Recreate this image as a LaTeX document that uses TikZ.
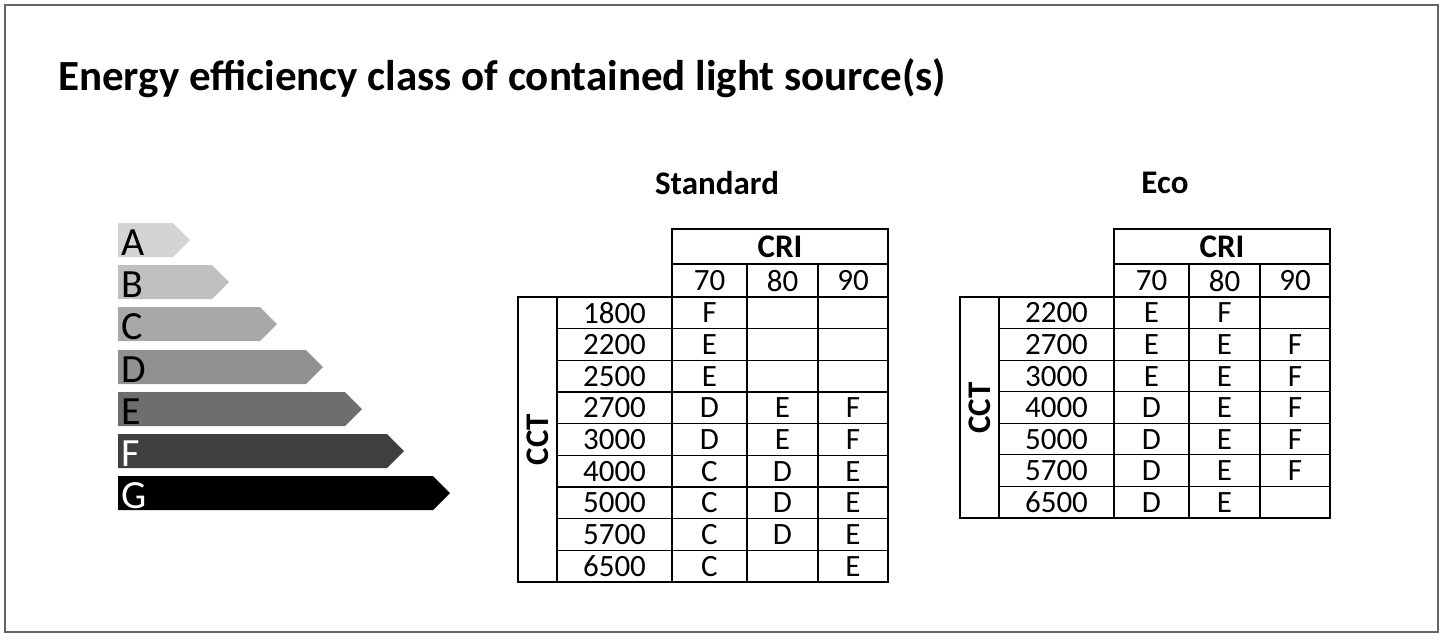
\documentclass[tikz,border=0pt]{standalone}
\usepackage{fontspec}
\setmainfont{Carlito}
\begin{document}
\begin{tikzpicture}[x=1pt,y=-1pt,
  cell/.style={font=\fontsize{31}{31}\selectfont,anchor=center},
  hdr/.style={font=\bfseries\fontsize{33}{33}\selectfont,anchor=center},
  grid/.style={line width=1.2pt,black}]
\useasboundingbox (0,0) rectangle (1443,640);
\fill[white] (0,0) rectangle (1443,640);
\draw[line width=2pt,gray!80!black] (5,5) rectangle (1438,632);
\node[anchor=west,font=\bfseries\fontsize{43}{43}\selectfont,inner sep=0pt] (title) at (58,78) {Energy efficiency class of contained light source(s)};
% bars
\foreach \L/\t/\tip/\c/\tc in {A/223/190/D3D4D6/black,B/265/229/BFC0C2/black,C/307/277/A7A8AA/black,D/350/323/909193/black,E/392/362/6D6E70/black,F/434/404/3F3F3F/white,G/476/450/000000/white}{
  \definecolor{bc}{HTML}{\c}
  \fill[bc] (118,\t) -- (\tip-17,\t) -- (\tip,\t+17) -- (\tip-17,\t+34) -- (118,\t+34) -- cycle;
  \node[anchor=west,text=\tc,font=\fontsize{40}{40}\selectfont,inner sep=0pt] (bar\L) at (121,\t+20) {\L};
}
% Standard table
\node[hdr] (stdt) at (717,183) {Standard};
\begin{scope}[grid]
\draw (672,229) rectangle (888,297);
\draw (672,264) -- (888,264);
\draw (747,264) -- (747,582); \draw (818,264) -- (818,582);
\draw (518,297) rectangle (888,582);
\draw (557,297) -- (557,582); \draw (672,297) -- (672,582);
\foreach \i in {1,...,8} \draw (557,297+\i*31.67) -- (888,297+\i*31.67);
\end{scope}
\node[hdr] (scri) at (780,247) {CRI};
\node[cell] (s70) at (709.5,281) {70};
\node[cell] (s80) at (782.5,281) {80};
\node[cell] (s90) at (853,281) {90};
\node[hdr,rotate=90] (scct) at (538,439.5) {CCT};
\foreach \v/\a/\b/\d [count=\i from 0] in {1800/F//,2200/E//,2500/E//,2700/D/E/F,3000/D/E/F,4000/C/D/E,5000/C/D/E,5700/C/D/E,6500/C//E}{
  \node[cell] (sr\i) at (614.5,313+\i*31.67) {\v};
  \node[cell] (sa\i) at (709.5,313+\i*31.67) {\a};
  \node[cell] (sb\i) at (782.5,313+\i*31.67) {\b};
  \node[cell] (sc\i) at (853,313+\i*31.67) {\d};
}
% Eco table
\node[hdr] (ecot) at (1165,183) {Eco};
\begin{scope}[grid]
\draw (1114,229) rectangle (1330,297);
\draw (1114,264) -- (1330,264);
\draw (1189,264) -- (1189,518); \draw (1260,264) -- (1260,518);
\draw (960,297) rectangle (1330,518);
\draw (999,297) -- (999,518); \draw (1114,297) -- (1114,518);
\foreach \i in {1,...,6} \draw (999,297+\i*31.57) -- (1330,297+\i*31.57);
\end{scope}
\node[hdr] (ecri) at (1222,247) {CRI};
\node[cell] (e70) at (1151.5,281) {70};
\node[cell] (e80) at (1224.5,281) {80};
\node[cell] (e90) at (1295,281) {90};
\node[hdr,rotate=90] (ecct) at (980,408) {CCT};
\foreach \v/\a/\b/\d [count=\i from 0] in {2200/E/F/,2700/E/E/F,3000/E/E/F,4000/D/E/F,5000/D/E/F,5700/D/E/F,6500/D/E/}{
  \node[cell] (er\i) at (1056.5,313+\i*31.57) {\v};
  \node[cell] (ea\i) at (1151.5,313+\i*31.57) {\a};
  \node[cell] (eb\i) at (1224.5,313+\i*31.57) {\b};
  \node[cell] (ec\i) at (1295,313+\i*31.57) {\d};
}
\end{tikzpicture}
\end{document}
